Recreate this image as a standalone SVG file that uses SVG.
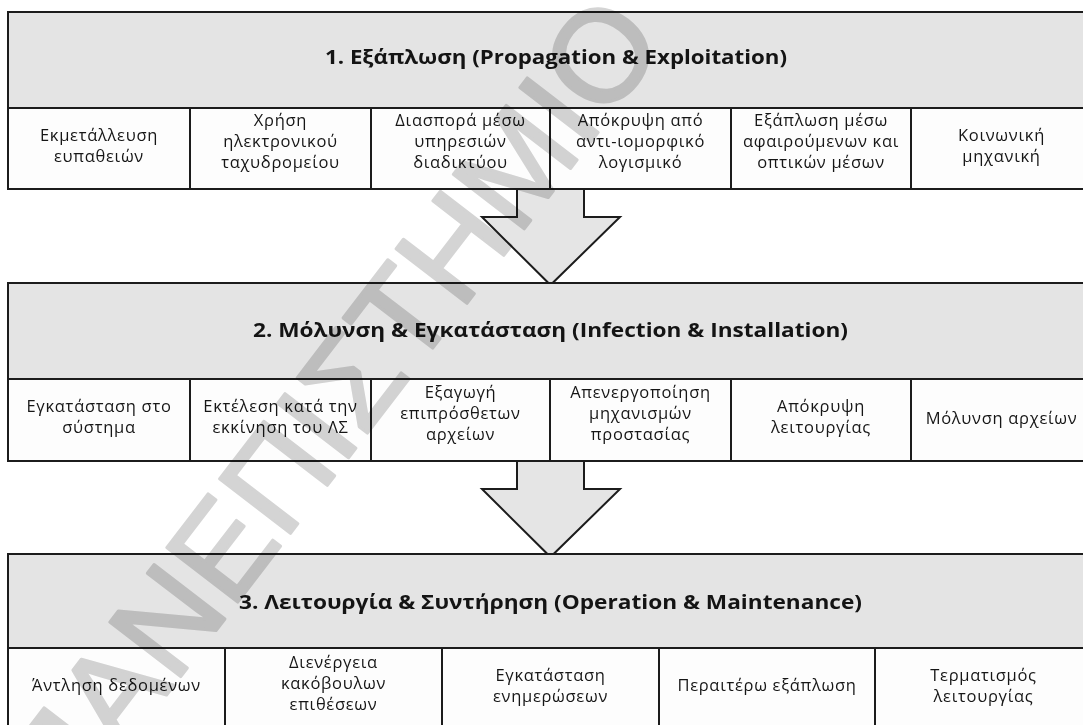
<svg xmlns="http://www.w3.org/2000/svg" width="1083" height="725" viewBox="0 0 1083 725">
<style>
.hdr{fill:#e4e4e4;stroke:#1c1c1c;stroke-width:2}
.cell{fill:#fdfdfd;stroke:#1c1c1c;stroke-width:2}
.arrow{fill:#e5e5e5;stroke:#1c1c1c;stroke-width:2;stroke-linejoin:miter}
.t{font-family:"Open Sans","Liberation Sans",sans-serif;font-size:19px;font-weight:700;fill:#141414;text-anchor:middle}
.c{font-family:"Open Sans","Liberation Sans",sans-serif;font-size:16.5px;fill:#161616;text-anchor:middle;letter-spacing:0.7px}
.wm{font-family:"Liberation Sans",sans-serif;font-size:130px;fill:#d4d4d4;stroke:#d4d4d4;stroke-width:3;stroke-linejoin:round;mix-blend-mode:multiply}
</style>
<rect width="1083" height="725" fill="#ffffff"/>
<g id="connectors">
<path class="arrow" d="M517,189 V217 H482 L550.5,285 L620,217 H584 V189"/>
<path class="arrow" d="M517,461 V489 H482 L550.5,557 L620,489 H584 V461"/>
</g>
<g id="stage1">
<rect class="hdr" x="8" y="12" width="1084" height="96"/>
<text class="t" x="556" y="64" textLength="462" lengthAdjust="spacingAndGlyphs">1. Εξάπλωση (Propagation &amp; Exploitation)</text>
<g id="s1c1"><rect class="cell" x="8" y="108" width="182" height="81"/><text class="c"><tspan x="99" y="141">Εκμετάλλευση</tspan><tspan x="99" y="162">ευπαθειών</tspan></text></g>
<g id="s1c2"><rect class="cell" x="190" y="108" width="181" height="81"/><text class="c"><tspan x="280.5" y="126">Χρήση</tspan><tspan x="280.5" y="147">ηλεκτρονικού</tspan><tspan x="280.5" y="168">ταχυδρομείου</tspan></text></g>
<g id="s1c3"><rect class="cell" x="371" y="108" width="179" height="81"/><text class="c"><tspan x="460.5" y="126">Διασπορά μέσω</tspan><tspan x="460.5" y="147">υπηρεσιών</tspan><tspan x="460.5" y="168">διαδικτύου</tspan></text></g>
<g id="s1c4"><rect class="cell" x="550" y="108" width="181" height="81"/><text class="c"><tspan x="640.5" y="126">Απόκρυψη από</tspan><tspan x="640.5" y="147">αντι-ιομορφικό</tspan><tspan x="640.5" y="168">λογισμικό</tspan></text></g>
<g id="s1c5"><rect class="cell" x="731" y="108" width="180" height="81"/><text class="c"><tspan x="821" y="126">Εξάπλωση μέσω</tspan><tspan x="821" y="147">αφαιρούμενων και</tspan><tspan x="821" y="168">οπτικών μέσων</tspan></text></g>
<g id="s1c6"><rect class="cell" x="911" y="108" width="181" height="81"/><text class="c"><tspan x="1001.5" y="141">Κοινωνική</tspan><tspan x="1001.5" y="162">μηχανική</tspan></text></g>
</g>
<g id="stage2">
<rect class="hdr" x="8" y="283" width="1084" height="96"/>
<text class="t" x="550.5" y="337" textLength="595" lengthAdjust="spacingAndGlyphs">2. Μόλυνση &amp; Εγκατάσταση (Infection &amp; Installation)</text>
<g id="s2c1"><rect class="cell" x="8" y="379" width="182" height="82"/><text class="c"><tspan x="99" y="412">Εγκατάσταση στο</tspan><tspan x="99" y="433">σύστημα</tspan></text></g>
<g id="s2c2"><rect class="cell" x="190" y="379" width="181" height="82"/><text class="c"><tspan x="280.5" y="412">Εκτέλεση κατά την</tspan><tspan x="280.5" y="433">εκκίνηση του ΛΣ</tspan></text></g>
<g id="s2c3"><rect class="cell" x="371" y="379" width="179" height="82"/><text class="c"><tspan x="460.5" y="398">Εξαγωγή</tspan><tspan x="460.5" y="419">επιπρόσθετων</tspan><tspan x="460.5" y="440">αρχείων</tspan></text></g>
<g id="s2c4"><rect class="cell" x="550" y="379" width="181" height="82"/><text class="c"><tspan x="640.5" y="398">Απενεργοποίηση</tspan><tspan x="640.5" y="419">μηχανισμών</tspan><tspan x="640.5" y="440">προστασίας</tspan></text></g>
<g id="s2c5"><rect class="cell" x="731" y="379" width="180" height="82"/><text class="c"><tspan x="821" y="412">Απόκρυψη</tspan><tspan x="821" y="433">λειτουργίας</tspan></text></g>
<g id="s2c6"><rect class="cell" x="911" y="379" width="181" height="82"/><text class="c" x="1001.5" y="424">Μόλυνση αρχείων</text></g>
</g>
<g id="stage3">
<rect class="hdr" x="8" y="554" width="1084" height="94"/>
<text class="t" x="550.5" y="609" textLength="623" lengthAdjust="spacingAndGlyphs">3. Λειτουργία &amp; Συντήρηση (Operation &amp; Maintenance)</text>
<g id="s3c1"><rect class="cell" x="8" y="648" width="217" height="82"/><text class="c" x="116.5" y="691">Άντληση δεδομένων</text></g>
<g id="s3c2"><rect class="cell" x="225" y="648" width="217" height="82"/><text class="c"><tspan x="333.5" y="668">Διενέργεια</tspan><tspan x="333.5" y="689">κακόβουλων</tspan><tspan x="333.5" y="710">επιθέσεων</tspan></text></g>
<g id="s3c3"><rect class="cell" x="442" y="648" width="217" height="82"/><text class="c"><tspan x="550.5" y="681">Εγκατάσταση</tspan><tspan x="550.5" y="702">ενημερώσεων</tspan></text></g>
<g id="s3c4"><rect class="cell" x="659" y="648" width="216" height="82"/><text class="c" x="767" y="691">Περαιτέρω εξάπλωση</text></g>
<g id="s3c5"><rect class="cell" x="875" y="648" width="217" height="82"/><text class="c"><tspan x="983.5" y="681">Τερματισμός</tspan><tspan x="983.5" y="702">λειτουργίας</tspan></text></g>
</g>
<g id="watermark" transform="translate(330,408) rotate(-52.5)">
<text class="wm" x="0" y="0" text-anchor="middle" dominant-baseline="central">ΠΑΝΕΠΙΣΤΗΜΙΟ</text>
</g>
</svg>
